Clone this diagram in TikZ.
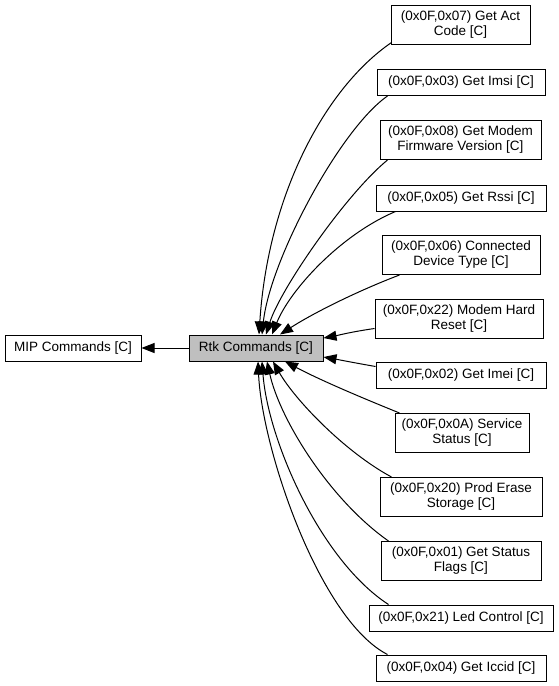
\documentclass[tikz,border=0pt]{standalone}
\usepackage{fontspec}
\setmainfont{Liberation Sans}
\usetikzlibrary{arrows.meta}
\begin{document}
\begin{tikzpicture}[x=1pt,y=-1pt,
  box/.style={draw=black, line width=1pt, fill=white, inner sep=0pt, align=center,
    font=\fontsize{13.5}{15}\selectfont},
  edge/.style={draw=black, line width=1pt, -{Triangle[length=13pt,width=10pt]}}]
\fill[white] (0,0) rectangle (559,686);
\useasboundingbox (0,0) rectangle (559,686);

\node[box, minimum width=136pt, minimum height=26pt] (mip) at (73,348) {MIP Commands [C]};
\node[box, fill={rgb,255:red,191;green,191;blue,191}, minimum width=134pt, minimum height=26pt] (rtk) at (256,348) {Rtk Commands [C]};

\node[box, minimum width=139pt, minimum height=39pt] (act) at (460.5,24.5) {(0x0F,0x07) Get Act\\Code [C]};
\node[box, minimum width=168pt, minimum height=26pt] (imsi) at (461,82.5) {(0x0F,0x03) Get Imsi [C]};
\node[box, minimum width=161pt, minimum height=39pt] (fw) at (460.5,140) {(0x0F,0x08) Get Modem\\Firmware Version [C]};
\node[box, minimum width=170pt, minimum height=26pt] (rssi) at (461,198) {(0x0F,0x05) Get Rssi [C]};
\node[box, minimum width=158pt, minimum height=39pt] (conn) at (461,255) {(0x0F,0x06) Connected\\Device Type [C]};
\node[box, minimum width=168pt, minimum height=39pt] (reset) at (459,318.5) {(0x0F,0x22) Modem Hard\\Reset [C]};
\node[box, minimum width=170pt, minimum height=26pt] (imei) at (461,375.5) {(0x0F,0x02) Get Imei [C]};
\node[box, minimum width=134pt, minimum height=39pt] (svc) at (462,433) {(0x0F,0x0A) Service\\Status [C]};
\node[box, minimum width=162pt, minimum height=39pt] (erase) at (461,497) {(0x0F,0x20) Prod Erase\\Storage [C]};
\node[box, minimum width=160pt, minimum height=39pt] (flags) at (461,561) {(0x0F,0x01) Get Status\\Flags [C]};
\node[box, minimum width=184pt, minimum height=26pt] (led) at (461,618) {(0x0F,0x21) Led Control [C]};
\node[box, minimum width=170pt, minimum height=26pt] (iccid) at (461,668) {(0x0F,0x04) Get Iccid [C]};

\draw[edge] (rtk.west) -- (mip.east);

\draw[edge] ([shift={(1,-2)}]act.south west) .. controls (325,88) and (268,195) .. ([xshift=3pt]rtk.north);
\draw[edge] ([shift={(11,0)}]imsi.south west) .. controls (340,129) and (270,260) .. ([xshift=6pt]rtk.north);
\draw[edge] ([shift={(8,0)}]fw.south west) .. controls (345,195) and (280,290) .. ([xshift=10pt]rtk.north);
\draw[edge] ([shift={(20,0)}]rssi.south west) .. controls (340,235) and (290,290) .. ([xshift=16pt]rtk.north);
\draw[edge] ([shift={(18,0)}]conn.south west) .. controls (360,290) and (315,312) .. ([xshift=24pt]rtk.north);
\draw[edge] ([shift={(0,10)}]reset.west) .. controls (350,332) and (335,336) .. ([shift={(0,-10)}]rtk.east);
\draw[edge] ([shift={(0,-9)}]imei.west) .. controls (350,362) and (335,359) .. ([shift={(0,9)}]rtk.east);
\draw[edge] ([shift={(5,0)}]svc.north west) .. controls (360,397) and (320,380) .. ([xshift=29pt]rtk.south);
\draw[edge] ([shift={(12,0)}]erase.north west) .. controls (345,452) and (295,400) .. ([xshift=17pt]rtk.south);
\draw[edge] ([shift={(8,0)}]flags.north west) .. controls (330,500) and (280,420) .. ([xshift=11pt]rtk.south);
\draw[edge] ([shift={(20,0)}]led.north west) .. controls (320,560) and (268,440) .. ([xshift=6pt]rtk.south);
\draw[edge] ([shift={(12,0)}]iccid.north west) .. controls (320,620) and (262,450) .. ([xshift=2pt]rtk.south);
\end{tikzpicture}
\end{document}
